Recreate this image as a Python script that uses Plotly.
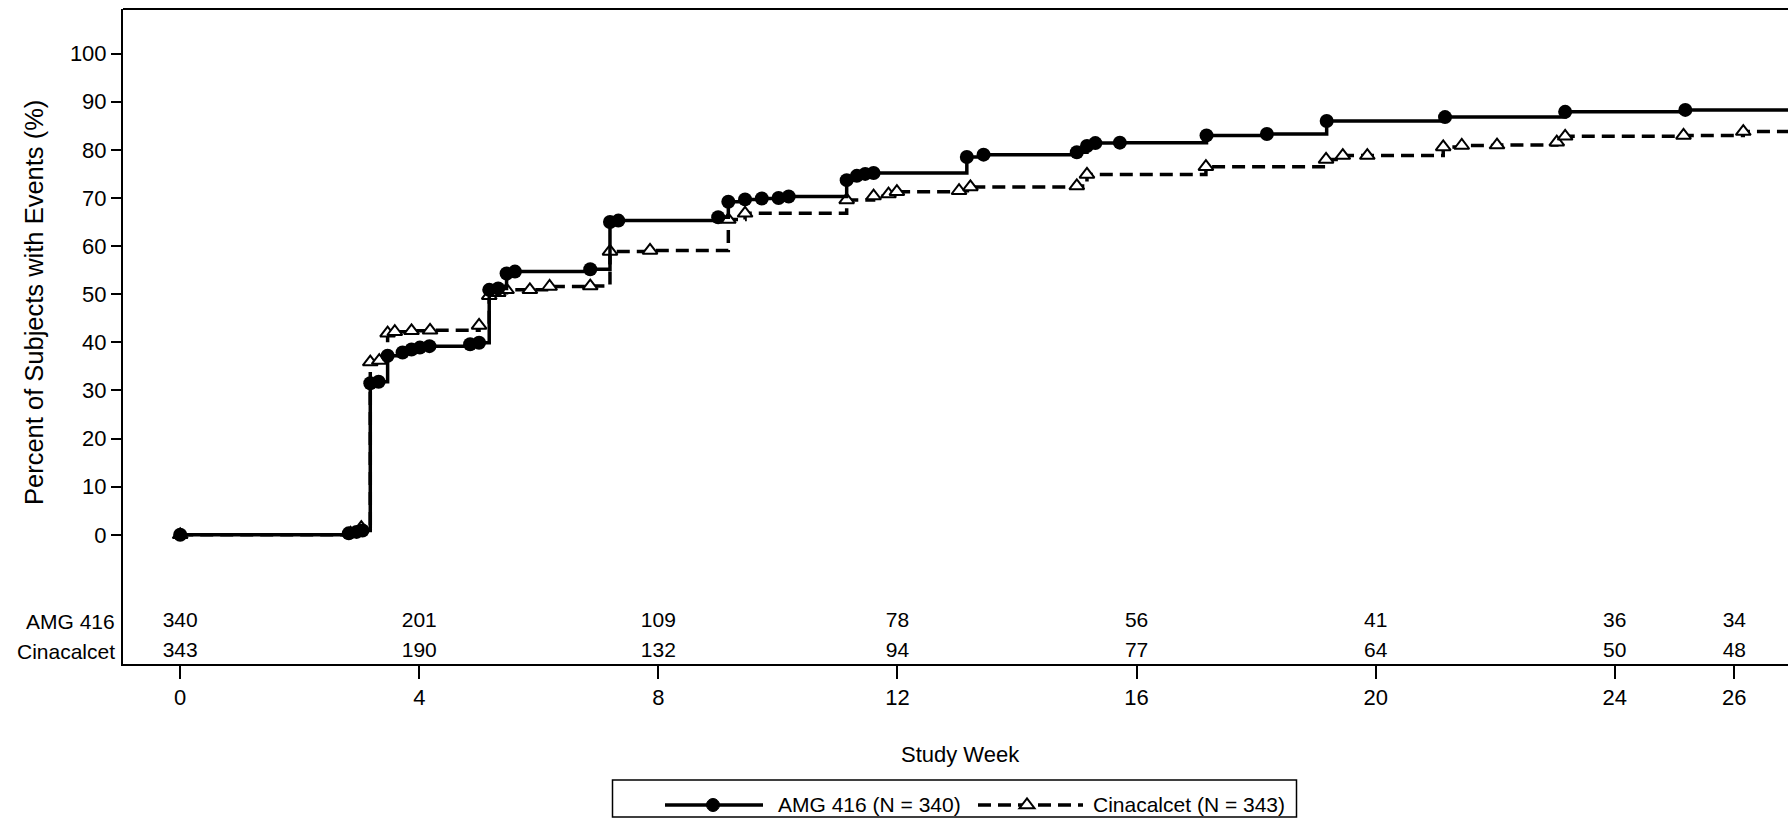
import plotly.graph_objects as go

W, H = 1788, 819
FONT = "Liberation Sans, Arial, sans-serif"

# Cumulative percent of subjects with events, by study week (AMG 416 arm)
amg_week = [0, 2.82, 2.95, 3.05, 3.18, 3.32, 3.47, 3.72, 3.87, 4.01, 4.17, 4.85, 5.00,
            5.17, 5.32, 5.46, 5.60, 6.86, 7.19, 7.33, 9.00, 9.17, 9.45, 9.73, 10.01,
            10.18, 11.15, 11.32, 11.46, 11.60, 13.16, 13.44, 15.00, 15.17, 15.31, 15.72,
            17.17, 18.18, 19.18, 21.16, 23.17, 25.18]
amg_pct = [0, 0.3, 0.6, 0.9, 31.5, 31.8, 37.2, 37.9, 38.5, 38.9, 39.2, 39.6, 39.9,
           50.9, 51.2, 54.3, 54.7, 55.2, 65.0, 65.3, 66.0, 69.2, 69.7, 69.9, 70.0,
           70.3, 73.7, 74.6, 75.0, 75.2, 78.5, 79.0, 79.5, 80.8, 81.4, 81.5,
           83.0, 83.3, 86.0, 86.8, 87.9, 88.3]

# Cinacalcet arm
cin_week = [0, 2.85, 3.03, 3.18, 3.33, 3.47, 3.59, 3.87, 4.18, 5.00, 5.17, 5.32, 5.46,
            5.85, 6.18, 6.86, 7.19, 7.86, 9.17, 9.45, 11.15, 11.60, 11.85, 11.99, 13.03,
            13.22, 15.00, 15.17, 17.16, 19.17, 19.45, 19.86, 21.13, 21.44, 22.03, 23.03,
            23.17, 25.15, 26.15]
cin_pct = [0, 0.3, 1.5, 35.9, 36.2, 41.9, 42.2, 42.4, 42.5, 43.5, 49.7, 50.3, 50.9,
           50.9, 51.6, 51.7, 58.9, 59.1, 65.5, 66.8, 69.6, 70.4, 70.8, 71.3, 71.5,
           72.3, 72.5, 74.9, 76.5, 78.0, 78.8, 78.8, 80.6, 80.9, 81.0, 81.6,
           82.8, 83.0, 83.8]

last_followup_week = 27.0

# Number of subjects at risk
risk_weeks = [0, 4, 8, 12, 16, 20, 24, 26]
amg_at_risk = [340, 201, 109, 78, 56, 41, 36, 34]
cin_at_risk = [343, 190, 132, 94, 77, 64, 50, 48]

x_ticks = [0, 4, 8, 12, 16, 20, 24, 26]
y_ticks = [0, 10, 20, 30, 40, 50, 60, 70, 80, 90, 100]

AMG_ROW_Y = -18.1
CIN_ROW_Y = -24.3


def px(x):
    return x / W


def py(y):
    return 1 - y / H


fig = go.Figure()

# Cinacalcet: dashed step curve with open triangles
fig.add_trace(go.Scatter(
    x=cin_week + [last_followup_week], y=cin_pct + [cin_pct[-1]],
    mode="lines", line=dict(color="black", width=3.5, dash="13px,7px", shape="hv"),
    showlegend=False, hoverinfo="skip"))
fig.add_trace(go.Scatter(
    x=cin_week, y=cin_pct, mode="markers",
    marker=dict(symbol="triangle-up", size=13, color="white",
                line=dict(color="black", width=2)),
    showlegend=False, cliponaxis=False))

# AMG 416: solid step curve with filled circles
fig.add_trace(go.Scatter(
    x=amg_week + [last_followup_week], y=amg_pct + [amg_pct[-1]],
    mode="lines", line=dict(color="black", width=3.5, shape="hv"),
    showlegend=False, hoverinfo="skip"))
fig.add_trace(go.Scatter(
    x=amg_week, y=amg_pct, mode="markers",
    marker=dict(symbol="circle", size=14, color="black"),
    showlegend=False, cliponaxis=False))

# Numbers at risk
fig.add_trace(go.Scatter(
    x=risk_weeks, y=[AMG_ROW_Y] * len(risk_weeks), mode="text",
    text=[str(v) for v in amg_at_risk], textposition="middle center",
    textfont=dict(family=FONT, size=21, color="black"),
    showlegend=False, cliponaxis=False, hoverinfo="skip"))
fig.add_trace(go.Scatter(
    x=risk_weeks, y=[CIN_ROW_Y] * len(risk_weeks), mode="text",
    text=[str(v) for v in cin_at_risk], textposition="middle center",
    textfont=dict(family=FONT, size=21, color="black"),
    showlegend=False, cliponaxis=False, hoverinfo="skip"))

x0_px, x1_px = 123, W
top_px, bot_px = 9, 664

fig.update_layout(
    width=W, height=H,
    margin=dict(l=0, r=0, t=0, b=0),
    paper_bgcolor="white", plot_bgcolor="white",
    font=dict(family=FONT, size=22, color="black"),
    showlegend=False,
    xaxis=dict(
        domain=[px(x0_px), 1.0],
        range=[-0.957, 26.898],
        tickvals=x_ticks, ticktext=[str(t) for t in x_ticks],
        ticks="outside", ticklen=13, tickwidth=2, tickcolor="black",
        showline=True, linewidth=2, linecolor="black",
        showgrid=False, zeroline=False, automargin=False,
        tickfont=dict(family=FONT, size=22, color="black"),
    ),
    yaxis=dict(
        domain=[py(bot_px), py(top_px)],
        range=[-26.85, 109.27],
        tickvals=y_ticks, ticktext=[str(t) for t in y_ticks],
        ticks="outside", ticklen=10, tickwidth=2, tickcolor="black",
        showline=True, linewidth=2, linecolor="black",
        showgrid=False, zeroline=False, automargin=False,
        tickfont=dict(family=FONT, size=22, color="black"),
    ),
)

shapes = [
    # top frame line of the plotting area
    dict(type="line", xref="x domain", yref="y domain", x0=0, x1=1, y0=1, y1=1,
         line=dict(color="black", width=2)),
]

# Legend box drawn below the axis title
leg_l, leg_r, leg_t, leg_b = 612.5, 1296.5, 780, 817
leg_y = 805
shapes.append(dict(type="rect", xref="paper", yref="paper",
                   x0=px(leg_l), x1=px(leg_r), y0=py(leg_b), y1=py(leg_t),
                   line=dict(color="black", width=1.5), fillcolor="white", layer="below"))
shapes.append(dict(type="line", xref="paper", yref="paper",
                   x0=px(665), x1=px(763), y0=py(leg_y), y1=py(leg_y),
                   line=dict(color="black", width=3.5)))
r = 6.5
shapes.append(dict(type="circle", xref="paper", yref="paper",
                   x0=px(713 - r), x1=px(713 + r), y0=py(leg_y + r), y1=py(leg_y - r),
                   fillcolor="black", line=dict(color="black", width=1)))
shapes.append(dict(type="line", xref="paper", yref="paper",
                   x0=px(978), x1=px(1083), y0=py(leg_y), y1=py(leg_y),
                   line=dict(color="black", width=3.5, dash="13px,7px")))
tx, tr = 1027, 6.5
rt = tr * 2 / 3 ** 0.5
tri = (f"M{px(tx - rt)},{py(leg_y + tr / 2)} L{px(tx + rt)},{py(leg_y + tr / 2)} "
       f"L{px(tx)},{py(leg_y - tr)} Z")
shapes.append(dict(type="path", xref="paper", yref="paper", path=tri,
                   fillcolor="white", line=dict(color="black", width=2)))
fig.update_layout(shapes=shapes)

annotations = [
    dict(text="Percent of Subjects with Events (%)", x=px(34), y=py(303),
         xref="paper", yref="paper", textangle=-90, showarrow=False,
         xanchor="center", yanchor="middle", font=dict(size=25.5)),
    dict(text="Study Week", x=px(960), y=py(754), xref="paper", yref="paper",
         showarrow=False, xanchor="center", yanchor="middle", font=dict(size=22)),
    dict(text="AMG 416", x=px(117), y=AMG_ROW_Y, xref="paper", yref="y",
         showarrow=False, xanchor="right", yanchor="middle", font=dict(size=21)),
    dict(text="Cinacalcet", x=px(117), y=CIN_ROW_Y, xref="paper", yref="y",
         showarrow=False, xanchor="right", yanchor="middle", font=dict(size=21)),
    dict(text="AMG 416 (N = 340)", x=px(776), y=py(leg_y - 1), xref="paper", yref="paper",
         showarrow=False, xanchor="left", yanchor="middle", font=dict(size=21)),
    dict(text="Cinacalcet (N = 343)", x=px(1091), y=py(leg_y - 1), xref="paper", yref="paper",
         showarrow=False, xanchor="left", yanchor="middle", font=dict(size=21)),
]
fig.update_layout(annotations=annotations)

fig.write_html("out.html")
